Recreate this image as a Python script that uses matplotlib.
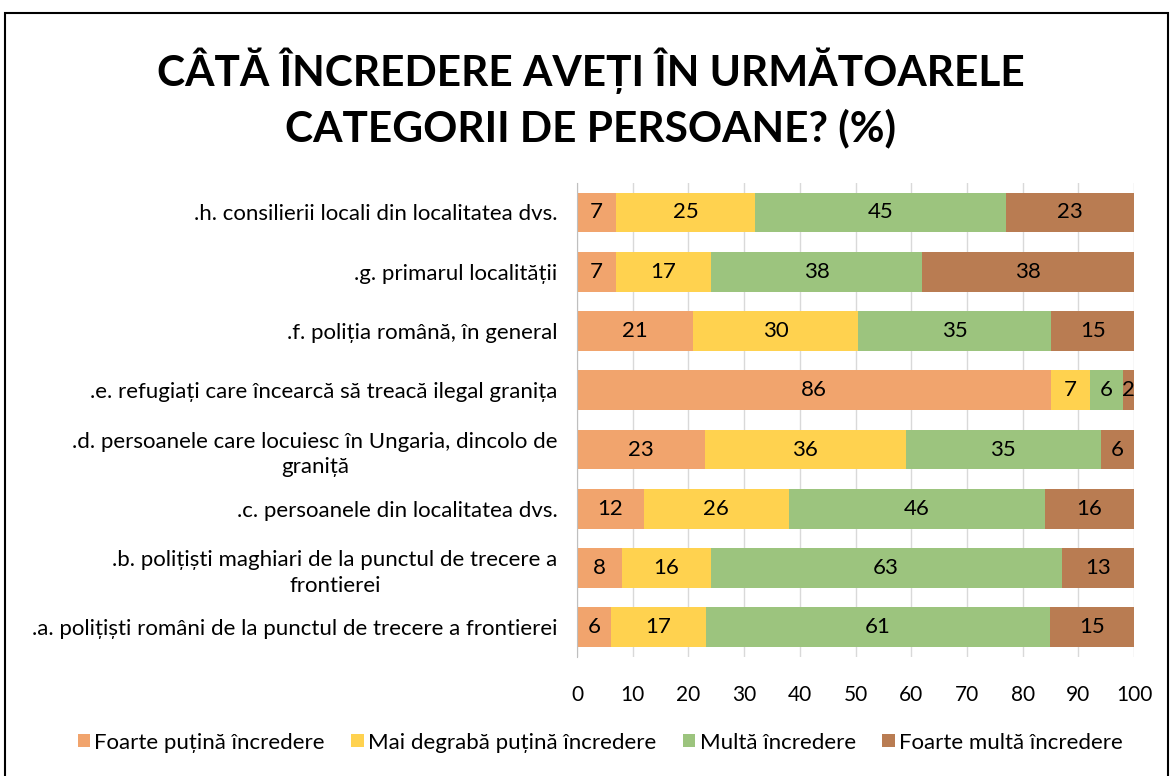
import matplotlib.pyplot as plt
import numpy as np
from matplotlib.patches import Rectangle

plt.rcParams['font.family'] = ['Lato', 'Noto Sans', 'DejaVu Sans']

categories = [
    '.a. polițiști români de la punctul de trecere a frontierei',
    '.b. polițiști maghiari de la punctul de trecere a\nfrontierei',
    '.c. persoanele din localitatea dvs.',
    '.d. persoanele care locuiesc în Ungaria, dincolo de\ngraniță',
    '.e. refugiați care încearcă să treacă ilegal granița',
    '.f. poliția română, în general',
    '.g. primarul localității',
    '.h. consilierii locali din localitatea dvs.',
]
series = ['Foarte puțină încredere', 'Mai degrabă puțină încredere',
          'Multă încredere', 'Foarte multă încredere']
foarte_putina = [6, 8, 12, 23, 86, 21, 7, 7]
degraba_putina = [17, 16, 26, 36, 7, 30, 17, 25]
multa = [61, 63, 46, 35, 6, 35, 38, 45]
foarte_multa = [15, 13, 16, 6, 2, 15, 38, 23]
colors = ['#F1A46D', '#FFD24F', '#9CC47E', '#B97C52']

data = np.array([foarte_putina, degraba_putina, multa, foarte_multa], dtype=float)
shares = data / data.sum(axis=0) * 100  # 100% stacked

fig = plt.figure(figsize=(11.7, 7.76), dpi=100)
ax = fig.add_axes([0.4932, 0.1534, 0.476, 0.611])

y = np.arange(len(categories))
left = np.zeros(len(categories))
for i in range(4):
    bars = ax.barh(y, shares[i], left=left, height=0.67, color=colors[i],
                   label=series[i], zorder=2)
    ax.bar_label(bars, labels=[str(int(v)) for v in data[i]],
                 label_type='center', fontsize=16, color='black')
    left += shares[i]

ax.set_xlim(0, 100)
ax.set_ylim(-0.5, len(categories) - 0.5)
ax.set_xticks(np.arange(0, 101, 10))
ax.set_yticks(y)
ax.set_yticklabels(categories, fontsize=16, multialignment='center',
                   linespacing=1.35)
ax.tick_params(axis='x', length=0, pad=20, labelsize=15)
ax.tick_params(axis='y', length=0, pad=14)
ax.grid(axis='x', color='#d9d9d9', linewidth=1, zorder=0)
for s in ['top', 'right', 'bottom']:
    ax.spines[s].set_visible(False)
ax.spines['left'].set_color('#bfbfbf')
ax.spines['left'].set_zorder(3)

fig.text(0.505, 0.874, 'CÂTĂ ÎNCREDERE AVEȚI ÎN URMĂTOARELE\nCATEGORII DE PERSOANE? (%)',
         ha='center', va='center', fontsize=30.5, fontweight='bold',
         linespacing=1.45)

fig.legend(loc='center', bbox_to_anchor=(0.513, 0.043), ncol=4, frameon=False,
           fontsize=16, handlelength=0.55, handleheight=0.55, handletextpad=0.2,
           columnspacing=1.2)

fig.patches.append(Rectangle((5 / 1170, -0.05), 1163 / 1170, 1.05 - 13 / 776,
                             transform=fig.transFigure, fill=False,
                             edgecolor='black', linewidth=1.5))

fig.savefig('out.png', dpi=100)
